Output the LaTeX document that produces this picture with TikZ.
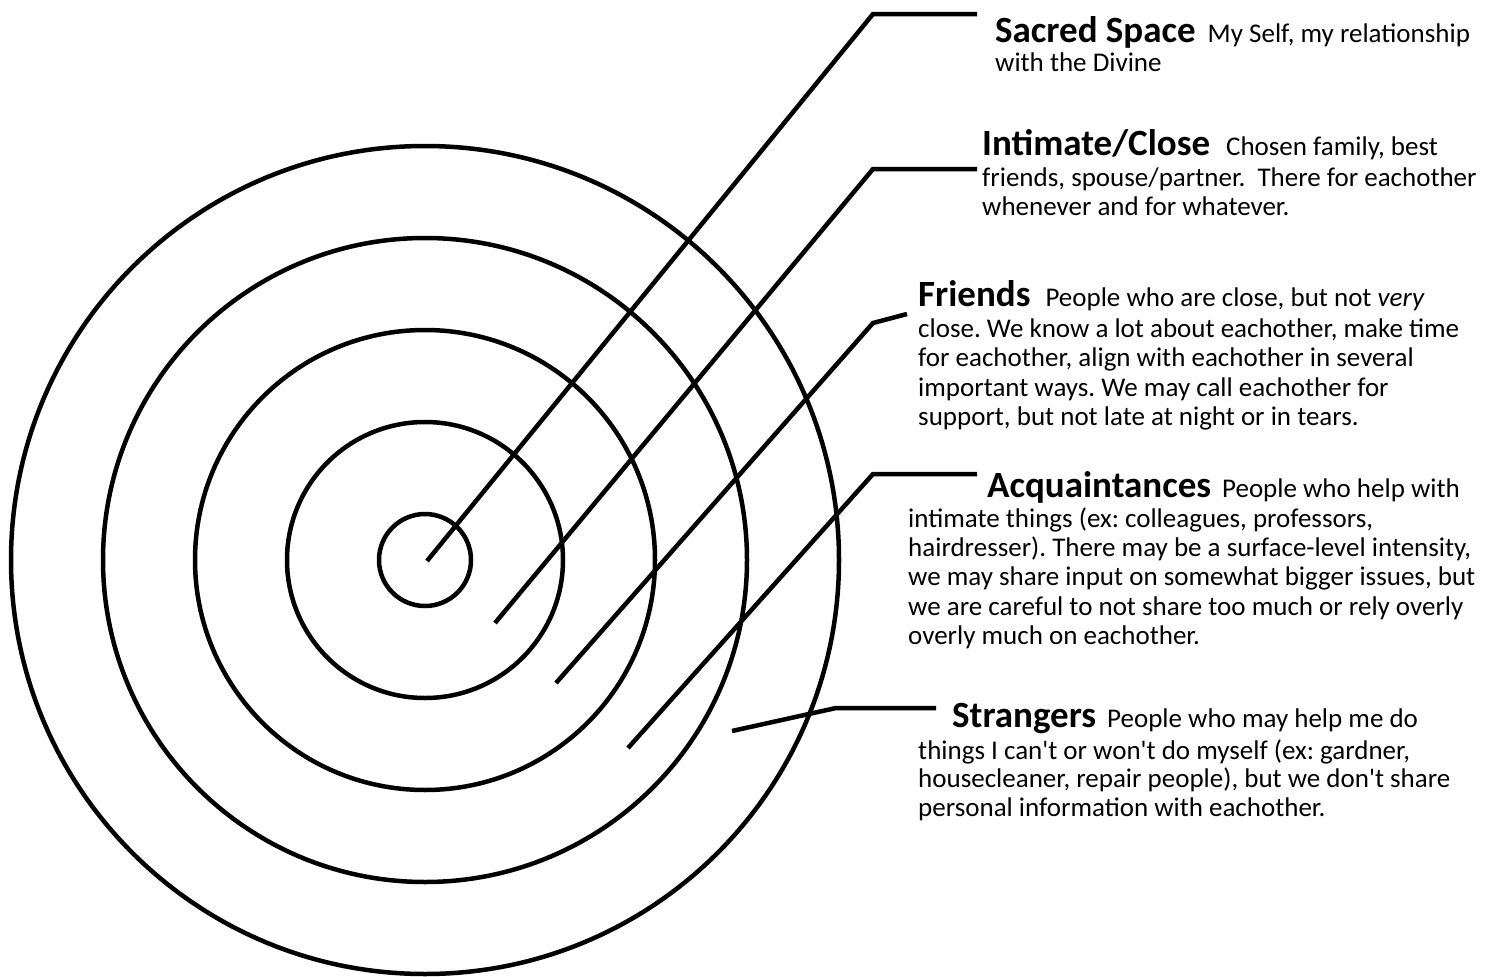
\documentclass[tikz,border=0pt]{standalone}
\usepackage{fontspec}
\setmainfont{Carlito}
\newcommand\hdfont{\fontsize{37}{40}\selectfont\bfseries}
\newcommand\apo{\textquotesingle}
\begin{document}
\frenchspacing
\begin{tikzpicture}[x=1pt,y=-1pt,
  ring/.style={draw,circle,line width=4.5pt,inner sep=0pt,outer sep=0pt},
  conn/.style={line width=4.5pt,line join=miter},
  txt/.style={anchor=base west,inner sep=0pt,font=\fontsize{27}{30}\selectfont}]
\useasboundingbox[fill=white] (0,0) rectangle (1492,977);
% rings
\node[ring,minimum size=92pt]  (c1) at (425,560) {};
\node[ring,minimum size=276pt] (c2) at (425,560) {};
\node[ring,minimum size=460pt] (c3) at (425,560) {};
\node[ring,minimum size=644pt] (c4) at (425,560) {};
\node[ring,minimum size=828pt] (c5) at (425,560) {};
% connectors
\coordinate (a0) at (427,561); \coordinate (a1) at (873,14);  \coordinate (a2) at (977,14);
\coordinate (b0) at (495,623); \coordinate (b1) at (873,169); \coordinate (b2) at (977,169);
\coordinate (d0) at (556,683); \coordinate (d1) at (873,323); \coordinate (d2) at (907,314);
\coordinate (e0) at (628,748); \coordinate (e1) at (873,474); \coordinate (e2) at (977,474);
\coordinate (f0) at (732,731); \coordinate (f1) at (836,708); \coordinate (f2) at (936,708);
\draw[conn] (a0) -- (a1) -- (a2);
\draw[conn] (b0) -- (b1) -- (b2);
\draw[conn] (d0) -- (d1) -- (d2);
\draw[conn] (e0) -- (e1) -- (e2);
\draw[conn] (f0) -- (f1) -- (f2);
% texts
\node[txt] (s1) at (995,42) {{\hdfont Sacred Space}\hspace{12pt}My Self, my relationship};
\node[txt] (s2) at (995,71) {with the Divine};
\node[txt] (i1) at (982,155) {{\hdfont Intimate/Close}\hspace{16pt}Chosen family, best};
\node[txt] (i2) at (982,186) {friends, spouse/partner.\hspace{12pt}There for eachother};
\node[txt] (i3) at (982,215) {whenever and for whatever.};
\node[txt] (r1) at (918,306) {{\hdfont Friends}\hspace{15pt}People who are close, but not \textit{very}};
\node[txt] (r2) at (918,337) {close. We know a lot about eachother, make time};
\node[txt] (r3) at (918,366) {for eachother, align with eachother in several};
\node[txt] (r4) at (918,396) {important ways. We may call eachother for};
\node[txt] (r5) at (918,425) {support, but not late at night or in tears.};
\node[txt] (q1) at (987,497) {{\hdfont Acquaintances}\hspace{11pt}People who help with};
\node[txt] (q2) at (908,527) {intimate things (ex: colleagues, professors,};
\node[txt] (q3) at (908,556) {hairdresser). There may be a surface-level intensity,};
\node[txt] (q4) at (908,585) {we may share input on somewhat bigger issues, but};
\node[txt] (q5) at (908,615) {we are careful to not share too much or rely overly};
\node[txt] (q6) at (908,644) {overly much on eachother.};
\node[txt] (g1) at (952,727) {{\hdfont Strangers}\hspace{11pt}People who may help me do};
\node[txt] (g2) at (918,759) {things I can\apo t or won\apo t do myself (ex: gardner,};
\node[txt] (g3) at (918,787) {housecleaner, repair people), but we don\apo t share};
\node[txt] (g4) at (918,816) {personal information with eachother.};
\end{tikzpicture}
\end{document}
